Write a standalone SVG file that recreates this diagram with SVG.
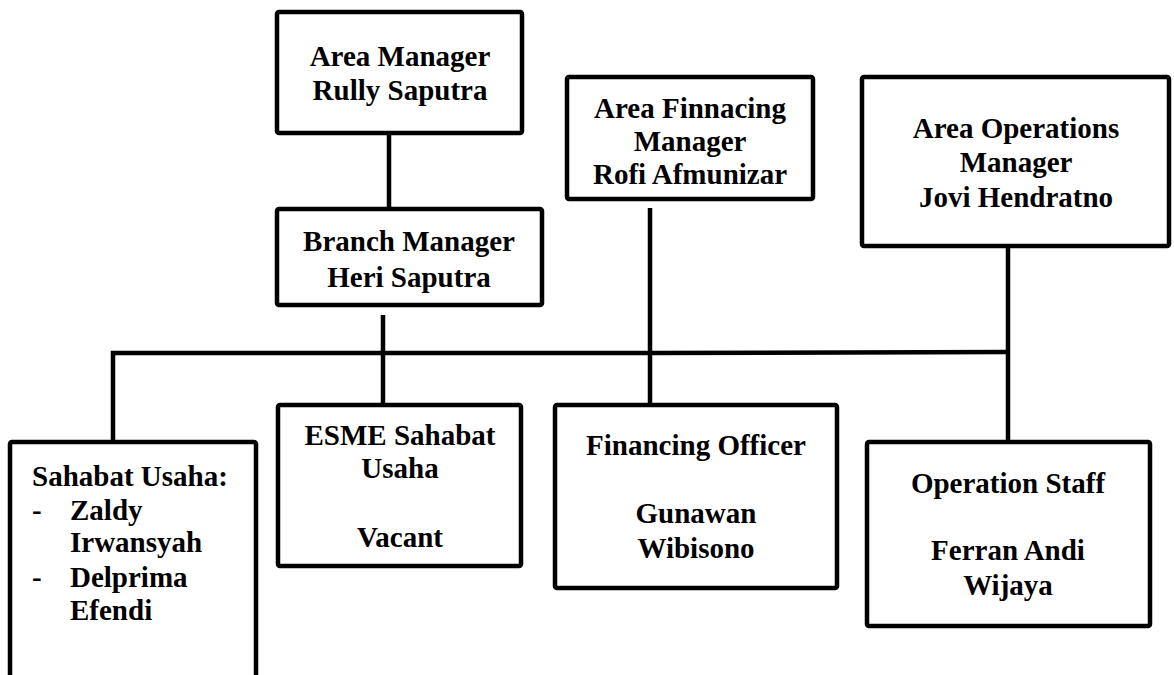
<svg xmlns="http://www.w3.org/2000/svg" width="1174" height="675" viewBox="0 0 1174 675">
<style>
.box{fill:#fff;stroke:#000;stroke-width:4.5}
.ln{stroke:#000;stroke-width:4.5;fill:none;stroke-linecap:butt}
text{font-family:"Liberation Serif","Times New Roman",serif;font-weight:bold;font-size:29px;fill:#000}
.c{text-anchor:middle}
</style>
<rect width="1174" height="675" fill="#fff"/>
<g id="connectors">
<line class="ln" x1="389" y1="134" x2="389" y2="208"/>
<line class="ln" x1="383" y1="315" x2="383" y2="404"/>
<line class="ln" x1="650" y1="208" x2="650" y2="404"/>
<line class="ln" x1="1008" y1="247" x2="1008" y2="441"/>
<polyline class="ln" points="113,441 113,353 650,353 1008,352"/>
</g>
<g id="area-manager">
<rect class="box" x="277" y="12" width="245" height="121" rx="2"/>
<text class="c" x="400" y="66">Area Manager</text>
<text class="c" x="400" y="100">Rully Saputra</text>
</g>
<g id="branch-manager">
<rect class="box" x="277" y="209" width="265" height="96" rx="2"/>
<text class="c" x="409" y="251">Branch Manager</text>
<text class="c" x="409" y="287">Heri Saputra</text>
</g>
<g id="area-financing-manager">
<rect class="box" x="567" y="77" width="246" height="122" rx="2"/>
<text class="c" x="690" y="118">Area Finnacing</text>
<text class="c" x="690" y="151">Manager</text>
<text class="c" x="690" y="184">Rofi Afmunizar</text>
</g>
<g id="area-operations-manager">
<rect class="box" x="862" y="77" width="307" height="169" rx="2"/>
<text class="c" x="1016" y="138">Area Operations</text>
<text class="c" x="1016" y="172">Manager</text>
<text class="c" x="1016" y="207">Jovi Hendratno</text>
</g>
<g id="sahabat-usaha">
<rect class="box" x="10" y="442" width="246" height="260" rx="2"/>
<text x="32" y="486">Sahabat Usaha:</text>
<text x="32" y="520">-</text>
<text x="70" y="520">Zaldy</text>
<text x="70" y="552">Irwansyah</text>
<text x="32" y="587">-</text>
<text x="70" y="587">Delprima</text>
<text x="70" y="620">Efendi</text>
</g>
<g id="esme-sahabat-usaha">
<rect class="box" x="278" y="405" width="243" height="161" rx="2"/>
<text class="c" x="400" y="445">ESME Sahabat</text>
<text class="c" x="400" y="478">Usaha</text>
<text class="c" x="400" y="547">Vacant</text>
</g>
<g id="financing-officer">
<rect class="box" x="555" y="405" width="282" height="183" rx="2"/>
<text class="c" x="696" y="455">Financing Officer</text>
<text class="c" x="696" y="523">Gunawan</text>
<text class="c" x="696" y="558">Wibisono</text>
</g>
<g id="operation-staff">
<rect class="box" x="867" y="442" width="283" height="184" rx="2"/>
<text class="c" x="1008" y="493">Operation Staff</text>
<text class="c" x="1008" y="560">Ferran Andi</text>
<text class="c" x="1008" y="595">Wijaya</text>
</g>
</svg>
